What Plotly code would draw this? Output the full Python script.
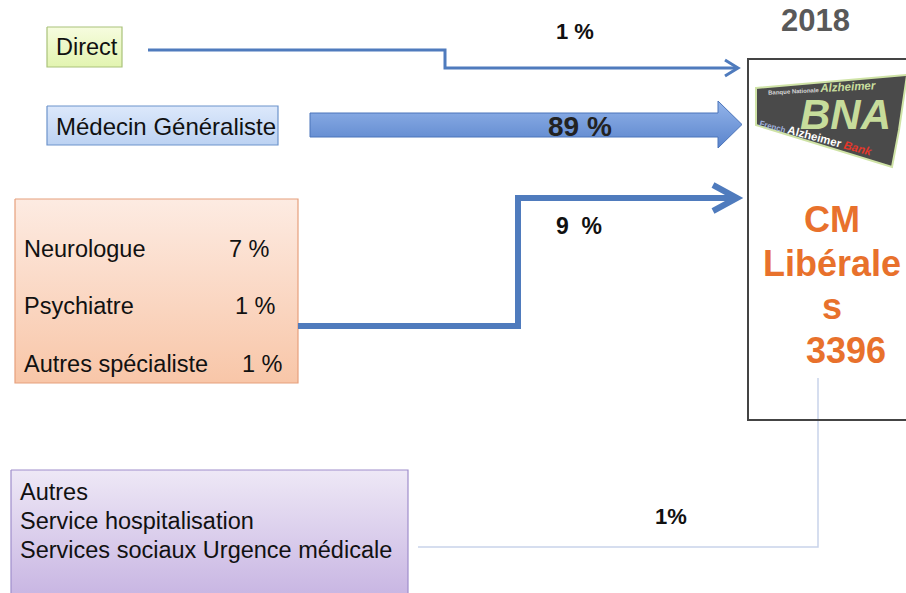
import plotly.graph_objects as go

# ---------------- data ----------------
YEAR = "2018"
SOURCES = ["Direct", "Médecin Généraliste", "Spécialistes", "Autres"]
SOURCE_PCT = [1, 89, 9, 1]
SPECIALISTS = ["Neurologue", "Psychiatre", "Autres spécialiste"]
SPECIALIST_PCT = [7, 1, 1]
OTHER_LINES = ["Autres", "Service hospitalisation", "Services sociaux Urgence médicale"]
CENTER_LINES = ["CM", "Libérale", "s"]
CENTER_TOTAL = 3396

# ---------------- layout / style ----------------
W, H = 906, 593
FONT = "Liberation Sans, Arial, Helvetica, sans-serif"
BLUE = "#4f7bbd"
ORANGE = "#e8712c"

fig = go.Figure()

def grad_box(x0, y0, x1, y1, ctop, cbot, border, lw=1.2):
    # gradient runs in pixel space; colorscale 0 = bottom (reversed y axis)
    fig.add_trace(go.Scatter(
        x=[x0, x1, x1, x0, x0], y=[y0, y0, y1, y1, y0],
        mode="lines", fill="toself",
        fillgradient=dict(type="vertical", colorscale=[[0, cbot], [1, ctop]]),
        line=dict(color=border, width=lw), hoverinfo="skip", showlegend=False))

def text(x, y, s, size=23, color="#111", bold=False, xanchor="left", angle=0, family=FONT):
    fig.add_annotation(x=x, y=y, text=(f"<b>{s}</b>" if bold else s), showarrow=False,
                       xanchor=xanchor, yanchor="middle", textangle=angle,
                       font=dict(size=size, color=color, family=family))

def path(d, color=BLUE, width=3, fill=None):
    fig.add_shape(type="path", path=d, line=dict(color=color, width=width),
                  fillcolor=fill if fill else "rgba(0,0,0,0)", layer="above")

# --- boxes ---
grad_box(47, 27, 122, 67, "#f6fcdf", "#e2f4b0", "#a9c27a")
grad_box(47, 106, 278, 145, "#dce8fb", "#bcd2f2", "#6d93cb")
grad_box(15, 199, 298, 383, "#fdebe2", "#f8c6a8", "#e6a07c")
grad_box(11, 470, 408, 600, "#eee8f6", "#c7b4e2", "#9f8ecb")

# --- source labels ---
text(54, 47, SOURCES[0], size=23.5)
text(54, 126, SOURCES[1], size=24)
spec_y = [249, 306, 364]
spec_pct_x = [272, 278, 285]
for name, v, yy, px in zip(SPECIALISTS, SPECIALIST_PCT, spec_y, spec_pct_x):
    text(22, yy, name, size=23.5)
    text(px, yy, f"{v} %", size=23.5, xanchor="right")
for i, line in enumerate(OTHER_LINES):
    text(18, 492 + i * 29, line, size=23.5)

# --- Direct flow (thin) ---
path("M 148 50 L 445 50 L 445 68 L 736 68", width=3)
path("M 725 60 L 738 68 L 725 76", width=3)
text(575, 31, f"{SOURCE_PCT[0]} %", size=22, bold=True, xanchor="center")

# --- Médecin flow (block arrow) ---
fig.add_trace(go.Scatter(
    x=[310, 718, 718, 742, 718, 718, 310, 310],
    y=[113, 113, 101, 124.5, 148, 137, 137, 113],
    mode="lines", fill="toself",
    fillgradient=dict(type="vertical", colorscale=[[0, "#5a84cc"], [1, "#93b4ea"]]),
    line=dict(color="#4b74ba", width=1), hoverinfo="skip", showlegend=False))
text(580, 126, f"{SOURCE_PCT[1]} %", size=28, bold=True, color="#222", xanchor="center")

# --- Spécialistes flow (thick) ---
path("M 298 326 L 518 326 L 518 198 L 734 198", width=6)
path("M 713 185 L 737 198 L 713 211", width=6)
text(579, 226, f"{SOURCE_PCT[2]}&nbsp; %", size=23, bold=True, xanchor="center")

# --- Autres flow (very thin) ---
path("M 818 378 L 818 547 L 418 547", color="#c9d3ea", width=1.5)
text(671, 516, f"{SOURCE_PCT[3]}%", size=22, bold=True, xanchor="center")

# --- target box ---
fig.add_shape(type="rect", x0=748, y0=59, x1=915, y1=420,
              line=dict(color="#444", width=2), fillcolor="rgba(0,0,0,0)")
text(815, 20, YEAR, size=31, bold=True, color="#595959", xanchor="center")

# BNA logo
path("M 756 88 L 907 75 L 899 130 L 892 167 L 756 125 Z",
     color="#cfe3a6", width=2, fill="#4a4a4a")
fig.add_annotation(x=822, y=88, xanchor="center", yanchor="middle", showarrow=False, textangle=-3,
                   text="<span style='font-size:6px;color:#d8d8d8'><b>Banque Nationale</b> </span>"
                        "<i><b>Alzheimer</b></i>",
                   font=dict(size=11.5, color="#c9df9f", family=FONT))
text(845, 114, "<i>BNA</i>", size=42, bold=True, color="#c7dc9b", xanchor="center")
fig.add_annotation(x=816, y=137, xanchor="center", yanchor="middle", showarrow=False, textangle=15,
                   text="<span style='font-size:8px;color:#9fb0dd'><b>French</b> </span>"
                        "<b><span style='color:#fff'>Alzheimer</span> "
                        "<i><span style='color:#e2372a'>Bank</span></i></b>",
                   font=dict(size=11.5, color="#fff", family=FONT))

center_y = [219, 263, 306]
for s, yy in zip(CENTER_LINES, center_y):
    text(832, yy, s, size=36, bold=True, color=ORANGE, xanchor="center")
text(846, 350, str(CENTER_TOTAL), size=36, bold=True, color=ORANGE, xanchor="center")

fig.update_layout(
    width=W, height=H, margin=dict(l=0, r=0, t=0, b=0),
    paper_bgcolor="white", plot_bgcolor="white", showlegend=False,
    xaxis=dict(range=[0, W], visible=False, fixedrange=True),
    yaxis=dict(range=[H, 0], visible=False, fixedrange=True),
)
fig.write_html("out.html", config={"displayModeBar": False},
               post_script="document.body.style.margin='0px';")
